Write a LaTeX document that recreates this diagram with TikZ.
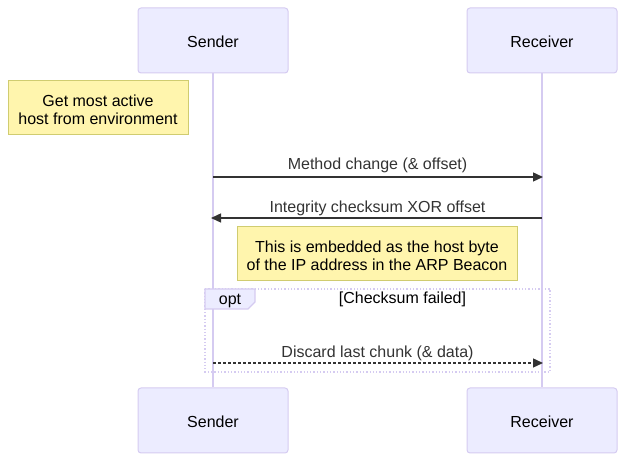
\documentclass[tikz,border=0pt]{standalone}
\usepackage{fontspec}
\setmainfont{Liberation Sans}
\usetikzlibrary{arrows.meta,positioning}
\definecolor{actfill}{HTML}{ECECFF}
\definecolor{actline}{HTML}{D5CBF1}
\definecolor{notefill}{HTML}{FFF5AD}
\definecolor{noteline}{HTML}{D0CC70}
\definecolor{msgcol}{HTML}{333333}
\tikzset{
  actor/.style={draw=actline, fill=actfill, line width=1pt, rounded corners=3pt,
    minimum width=150pt, minimum height=65pt, inner sep=0pt,
    font=\fontsize{16}{19}\selectfont},
  note/.style={draw=noteline, fill=notefill, line width=1pt, inner sep=0pt,
    align=center, font=\fontsize{16}{18}\selectfont},
  lifeline/.style={draw=actline, line width=1.3pt},
  msg/.style={draw=msgcol, line width=1.4pt, -{Triangle[length=10pt,width=9pt]}},
  msgtxt/.style={text=msgcol, font=\fontsize{16}{19}\selectfont, inner sep=0pt},
}
\begin{document}
\begin{tikzpicture}[x=1pt,y=-1pt]
\useasboundingbox (0,0) rectangle (625,462);
% actors
\node[actor] (s1) at (213,40.5) {};
\node[actor] (r1) at (542,40.5) {};
\node[actor] (s2) at (213,420.5) {};
\node[actor] (r2) at (542,420.5) {};
\node[font=\fontsize{16}{19}\selectfont, inner sep=0pt] (s1t) at (213,41.5) {Sender};
\node[font=\fontsize{16}{19}\selectfont, inner sep=0pt] (r1t) at (542,41.5) {Receiver};
\node[font=\fontsize{16}{19}\selectfont, inner sep=0pt] (s2t) at (213,421.5) {Sender};
\node[font=\fontsize{16}{19}\selectfont, inner sep=0pt] (r2t) at (542,421.5) {Receiver};
% lifelines
\draw[lifeline] (s1.south) -- (s2.north);
\draw[lifeline] (r1.south) -- (r2.north);
% note 1
\node[note, minimum width=180pt, minimum height=54pt] (n1) at (98,108) {};
\node[align=center, font=\fontsize{16}{18}\selectfont, inner sep=0pt] (n1t) at (98,110) {Get most active\\host from environment};
% message 1
\coordinate (m1s) at (213,177);
\coordinate (m1e) at (543,177);
\draw[msg] (m1s) -- (m1e);
\node[msgtxt] (t1) at (377.5,165) {Method change (\& offset)};
% message 2
\coordinate (m2s) at (542,218);
\coordinate (m2e) at (211,218);
\draw[msg] (m2s) -- (m2e);
\node[msgtxt] (t2) at (377.5,208) {Integrity checksum XOR offset};
% note 2
\node[note, minimum width=280pt, minimum height=54pt] (n2) at (377,254) {};
\node[align=center, font=\fontsize{16}{18}\selectfont, inner sep=0pt] (n2t) at (377,256) {This is embedded as the host byte\\of the IP address in the ARP Beacon};
% opt frame
\draw[actline, line width=1.3pt, dotted] (205,289) rectangle (550,372);
\path[fill=actfill, draw=actline, line width=1.3pt] (205,289) -- (255,289) -- (255,302) -- (248,309) -- (205,309) -- cycle;
\node[font=\fontsize{16}{19}\selectfont, inner sep=0pt] (opt) at (230,300.5) {opt};
\node[font=\fontsize{16}{19}\selectfont, inner sep=0pt] (cond) at (402.5,299.5) {[Checksum failed]};
% message 3
\coordinate (m3s) at (213,363);
\coordinate (m3e) at (543,363);
\draw[msg, dash pattern=on 3pt off 2pt] (m3s) -- (m3e);
\node[msgtxt] (t3) at (377.5,353) {Discard last chunk (\& data)};
\end{tikzpicture}
\end{document}
